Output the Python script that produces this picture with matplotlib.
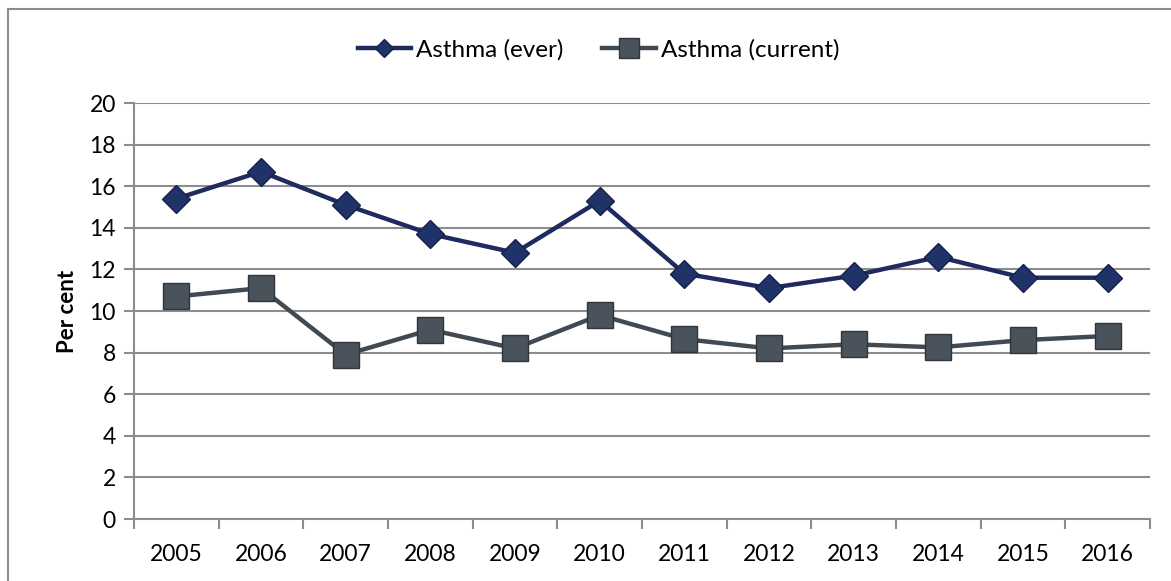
import matplotlib.pyplot as plt
import numpy as np
from matplotlib.patches import Rectangle

years = ["2005", "2006", "2007", "2008", "2009", "2010",
         "2011", "2012", "2013", "2014", "2015", "2016"]
asthma_ever = [15.4, 16.7, 15.1, 13.7, 12.8, 15.3, 11.8, 11.1, 11.7, 12.6, 11.6, 11.6]
asthma_current = [10.7, 11.1, 7.9, 9.1, 8.2, 9.8, 8.65, 8.2, 8.4, 8.25, 8.6, 8.8]

plt.rcParams['font.family'] = ['Lato', 'DejaVu Sans']

fig = plt.figure(figsize=(11.71, 5.81), dpi=100)
ax = fig.add_axes([134 / 1171, 62 / 581, 1016 / 1171, 416 / 581])

# outer chart frame
fig.patches.append(Rectangle((8 / 1171, -0.05), 1.2, (581 - 9) / 581 + 0.05,
                             transform=fig.transFigure, fill=False,
                             edgecolor='#8c8c8c', linewidth=1.5))

x = np.arange(len(years))
ax.plot(x, asthma_ever, color='#1f2b5e', linewidth=3.2, marker='D', markersize=14,
        markerfacecolor='#1f3368', markeredgecolor='#16204a', markeredgewidth=1,
        label='Asthma (ever)', zorder=3)
ax.plot(x, asthma_current, color='#414a52', linewidth=3.2, marker='s', markersize=19,
        markerfacecolor='#4a525b', markeredgecolor='#2f353b', markeredgewidth=1,
        label='Asthma (current)', zorder=3)

ax.set_xlim(-0.5, len(years) - 0.5)
ax.set_ylim(0, 20)
ax.set_yticks(range(0, 21, 2))
ax.set_xticks(x)
ax.set_xticklabels(years)
ax.set_xticks(np.arange(-0.5, len(years), 1), minor=True)
ax.tick_params(axis='x', which='major', length=0, pad=18, labelsize=16.5)
ax.tick_params(axis='x', which='minor', length=7, width=1.5, color='#8c8c8c', direction='out')
ax.tick_params(axis='y', length=7, width=1.5, color='#8c8c8c', pad=6, labelsize=16.5)

ax.grid(axis='y', color='#8c8c8c', linewidth=1.5)
ax.set_axisbelow(True)
for s in ['top', 'right']:
    ax.spines[s].set_visible(False)
for s in ['left', 'bottom']:
    ax.spines[s].set_color('#8c8c8c')
    ax.spines[s].set_linewidth(1.5)

ax.set_ylabel('Per cent', fontsize=16, fontweight='bold', labelpad=8)

leg = ax.legend(loc='lower center', bbox_to_anchor=(0.457, 1.05), ncol=2, frameon=False,
                fontsize=17.5, handlelength=2.2, handletextpad=0.2, columnspacing=1.6)
leg.get_lines()[0].set_markersize(9)
leg.get_lines()[1].set_markersize(14)

fig.savefig('out.png', dpi=100)
